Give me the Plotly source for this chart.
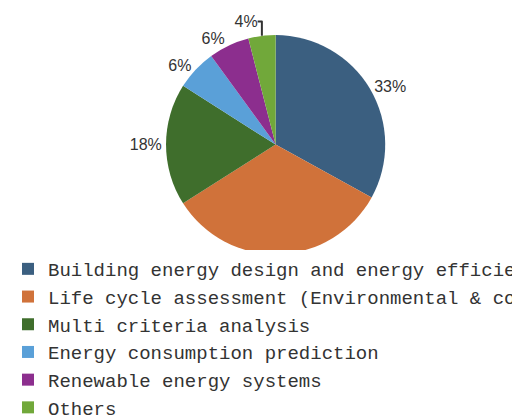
import plotly.graph_objects as go

labels = [
    "Building energy design and energy efficiency",
    "Life cycle assessment (Environmental & cost)",
    "Multi criteria analysis",
    "Energy consumption prediction",
    "Renewable energy systems",
    "Others",
]
values = [33, 33, 18, 6, 6, 4]
colors = ["#3b5f80", "#d0723a", "#3f6e2c", "#5aa0d8", "#8c2e8e", "#71a83a"]

fig = go.Figure(go.Pie(
    labels=labels, values=values, sort=False, direction="clockwise", rotation=0,
    marker=dict(colors=colors),
    textposition="outside", texttemplate="%{percent:.0%}",
    textfont=dict(family="Liberation Sans", size=16, color="#333333"),
    domain=dict(x=[0.09, 0.825], y=[0.2, 1.0]),
))

fig.update_layout(
    width=520, height=419,
    margin=dict(l=0, r=0, t=0, b=0),
    paper_bgcolor="white",
    legend=dict(x=-0.075, y=0.215, yanchor="top", xanchor="left",
                font=dict(family="Liberation Mono", size=19, color="#333333"),
                itemwidth=30, tracegroupgap=0),
)

fig.write_html("out.html")
